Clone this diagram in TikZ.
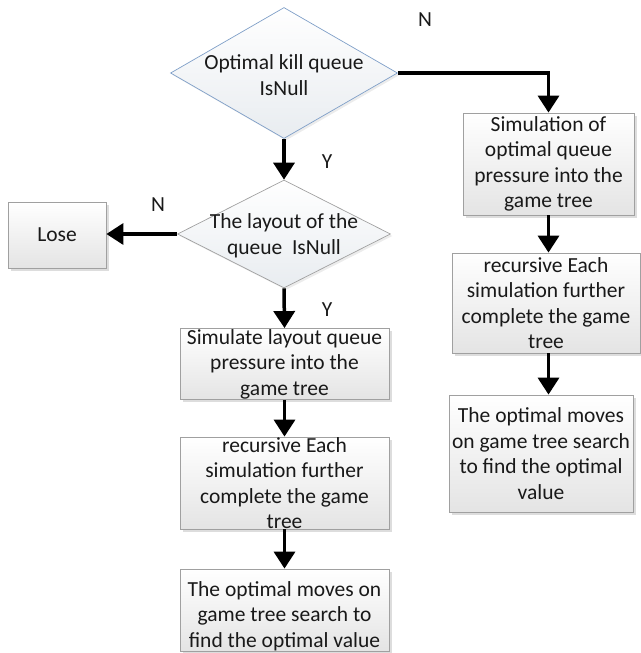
\documentclass[tikz,border=0pt]{standalone}
\usepackage{fontspec}
\setmainfont{Carlito}
\usetikzlibrary{arrows.meta,shapes.geometric,shadows}
\definecolor{boxline}{HTML}{A0A0A0}
\definecolor{decline}{HTML}{7F9FC8}
\definecolor{boxbot}{HTML}{E4E4E4}
\definecolor{decbot}{HTML}{E8ECF0}
\begin{document}
\begin{tikzpicture}[x=1pt,y=-1pt,
  every node/.style={font=\fontsize{21.5}{25.5}\selectfont, text=black!90},
  procbox/.style={rectangle, draw=boxline, line width=0.8pt, top color=white, bottom color=boxbot,
    inner sep=0pt, align=center,
    drop shadow={shadow xshift=2.5pt, shadow yshift=-2.5pt, fill=black!22, opacity=0.6}},
  decision/.style={diamond, draw=#1, line width=0.7pt, top color=white, bottom color=decbot,
    inner sep=0pt,
    drop shadow={shadow xshift=2pt, shadow yshift=-2pt, fill=black!15, opacity=0.5}},
  dtext/.style={align=center, inner sep=0pt},
  flow/.style={line width=3.5pt, -{Triangle[width=21pt,length=17pt]}},
  branch/.style={inner sep=0pt}]
\useasboundingbox (0,0) rectangle (640,653);

% decisions
\node[decision=decline, minimum width=227pt, minimum height=131pt] (d1) at (284,73) {};
\node[dtext] (t1) at (284,75) {Optimal kill queue\\IsNull};
\node[decision=boxline, minimum width=213pt, minimum height=108pt] (d2) at (284,234) {};
\node[dtext] (t2) at (284,236) {The layout of the\\queue~~IsNull};

% left column
\node[procbox, minimum width=98pt, minimum height=66pt] (lose) at (57,235) {Lose};
\node[procbox, minimum width=209pt, minimum height=71pt] (l1) at (284.5,364)
  {Simulate layout queue\\pressure into the\\game tree};
\node[procbox, minimum width=209pt, minimum height=92pt] (l2) at (284.5,483)
  {recursive Each\\simulation further\\complete the game\\tree};
\node[procbox, minimum width=209pt, minimum height=82pt] (l3) at (284.5,610) {};
\node[dtext] (t3) at (284.5,616)
  {The optimal moves on\\game tree search to\\find the optimal value};

% right column
\node[procbox, minimum width=171pt, minimum height=102pt] (r1) at (548.5,164)
  {Simulation of\\optimal queue\\pressure into the\\game tree};
\node[procbox, minimum width=188pt, minimum height=100pt] (r2) at (546,303)
  {recursive Each\\simulation further\\complete the game\\tree};
\node[procbox, minimum width=184pt, minimum height=117pt] (r3) at (541,453.5)
  {The optimal moves\\on game tree search\\to find the optimal\\value};

% connectors
\draw[flow] (d1.south) -- (d2.north);
\draw[flow] (d2.west) -- (d2.west -| lose.east);
\draw[flow] (d2.south) -- (l1.north);
\draw[flow] (l1.south) -- (l2.north);
\draw[flow] (l2.south) -- (l3.north);
\draw[flow] (d1.east) -| (r1.north);
\draw[flow] (r1.south) -- (r1.south |- r2.north);
\draw[flow] (r1.south |- r2.south) -- (r1.south |- r3.north);

% branch labels
\node[branch] (n1) at (425,20) {N};
\node[branch] (y1) at (327,162) {Y};
\node[branch] (n2) at (158,205) {N};
\node[branch] (y2) at (327,310) {Y};
\end{tikzpicture}
\end{document}
